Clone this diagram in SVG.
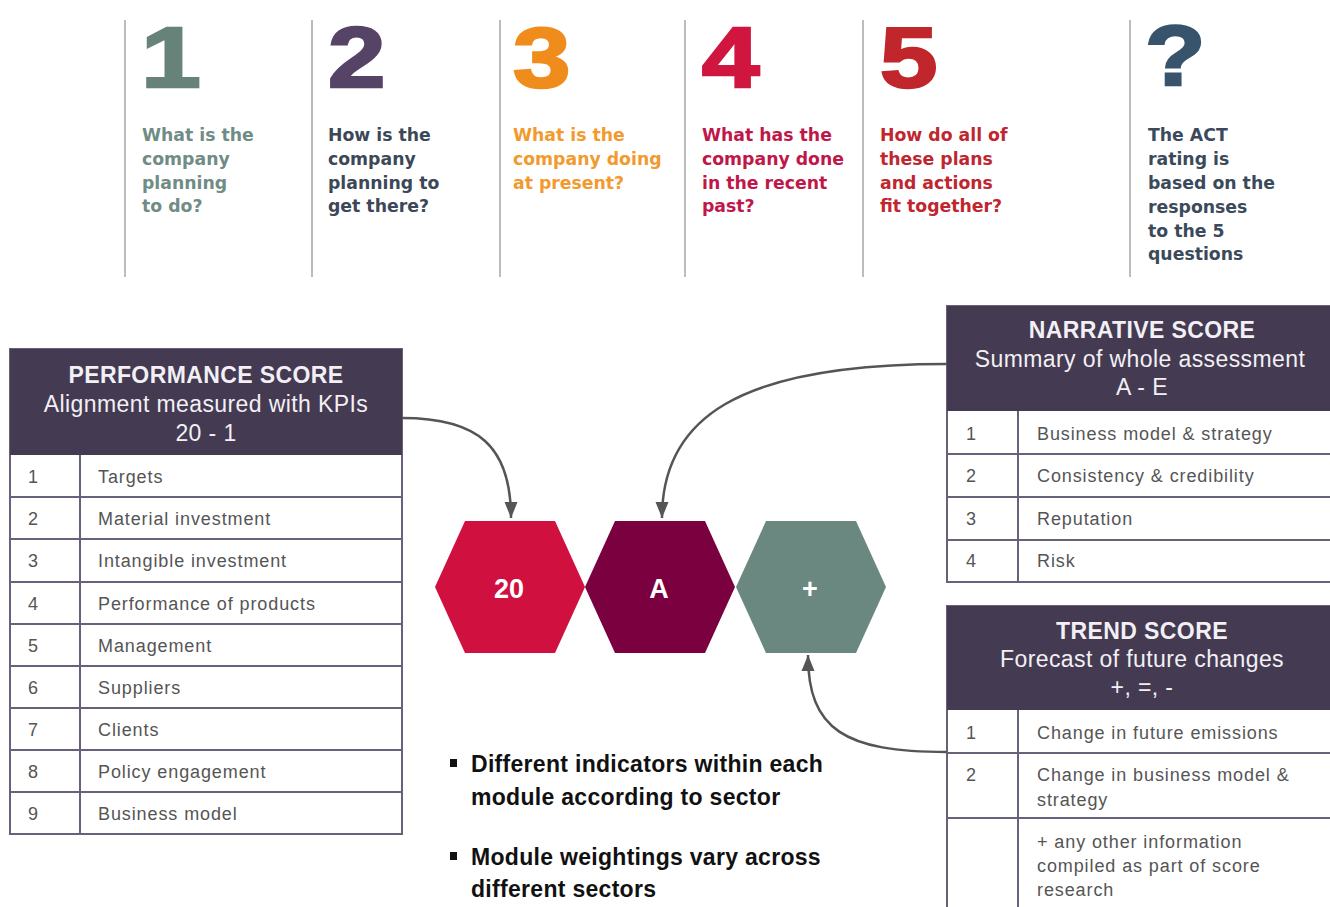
<svg xmlns="http://www.w3.org/2000/svg" width="1330" height="907" viewBox="0 0 1330 907">
<style>
.vl{stroke:#b9bdc1;stroke-width:2}
.num{font-family:"Liberation Sans",Arial,sans-serif;font-weight:bold;font-size:86px;stroke-width:2.5}
.q{font-family:"DejaVu Sans",sans-serif;font-weight:bold;font-size:17.3px}
.hdr{fill:#443a52}
.tb{fill:#fff;stroke:#6a607a;stroke-width:2}
.ln{stroke:#6a607a;stroke-width:2}
.ht{font-family:"Liberation Sans",Arial,sans-serif;font-size:23px;fill:#f2f0f4;text-anchor:middle;letter-spacing:0.4px}
.htb{font-weight:bold}
.tt{font-family:"Liberation Sans",Arial,sans-serif;font-size:18px;fill:#555;letter-spacing:0.9px}
.hx{font-family:"Liberation Sans",Arial,sans-serif;font-weight:bold;font-size:27px;fill:#fff;text-anchor:middle}
.bl{font-family:"Liberation Sans",Arial,sans-serif;font-weight:bold;font-size:23px;fill:#111;letter-spacing:0.3px}
.con{fill:none;stroke:#555;stroke-width:2.5}
</style>
<defs>
<marker id="ah" markerUnits="userSpaceOnUse" markerWidth="16" markerHeight="16" viewBox="0 0 16 16" refX="16" refY="8" orient="auto">
<path d="M0,1.5 L16,8 L0,14.5 Z" fill="#555"/>
</marker>
</defs>
<rect width="1330" height="907" fill="#fff"/>

<g id="questions">
<line class="vl" x1="125" y1="20" x2="125" y2="277"/>
<line class="vl" x1="312" y1="20" x2="312" y2="277"/>
<line class="vl" x1="500" y1="20" x2="500" y2="277"/>
<line class="vl" x1="685" y1="20" x2="685" y2="277"/>
<line class="vl" x1="863" y1="20" x2="863" y2="277"/>
<line class="vl" x1="1130" y1="20" x2="1130" y2="277"/>
</g>

<g id="q1">
<text class="num" transform="translate(141,87) scale(1.25,1)" fill="#678379" stroke="#678379">1</text>
<text class="q" fill="#6f8c85"><tspan x="142" y="141">What is the</tspan><tspan x="142" y="165">company</tspan><tspan x="142" y="189">planning</tspan><tspan x="142" y="212">to do?</tspan></text>
</g>
<g id="q2">
<text class="num" transform="translate(328,87) scale(1.2,1)" fill="#564466" stroke="#564466">2</text>
<text class="q" fill="#3c4757"><tspan x="328" y="141">How is the</tspan><tspan x="328" y="165">company</tspan><tspan x="328" y="189">planning to</tspan><tspan x="328" y="212">get there?</tspan></text>
</g>
<g id="q3">
<text class="num" transform="translate(513,87) scale(1.2,1)" fill="#f08c1c" stroke="#f08c1c">3</text>
<text class="q" fill="#f29a2e"><tspan x="513" y="141">What is the</tspan><tspan x="513" y="165">company doing</tspan><tspan x="513" y="189">at present?</tspan></text>
</g>
<g id="q4">
<text class="num" transform="translate(702,87) scale(1.2,1)" fill="#d0163f" stroke="#d0163f">4</text>
<text class="q" fill="#c0174a"><tspan x="702" y="141">What has the</tspan><tspan x="702" y="165">company done</tspan><tspan x="702" y="189">in the recent</tspan><tspan x="702" y="212">past?</tspan></text>
</g>
<g id="q5">
<text class="num" transform="translate(880,87) scale(1.2,1)" fill="#c0262b" stroke="#c0262b">5</text>
<text class="q" fill="#c0262f"><tspan x="880" y="141">How do all of</tspan><tspan x="880" y="165">these plans</tspan><tspan x="880" y="189">and actions</tspan><tspan x="880" y="212">fit together?</tspan></text>
</g>
<g id="q6">
<text class="num" transform="translate(1145,85) scale(1.15,1)" fill="#38546c" stroke="#38546c">?</text>
<text class="q" fill="#3b4a5a"><tspan x="1148" y="141">The ACT</tspan><tspan x="1148" y="165">rating is</tspan><tspan x="1148" y="189">based on the</tspan><tspan x="1148" y="213">responses</tspan><tspan x="1148" y="237">to the 5</tspan><tspan x="1148" y="260">questions</tspan></text>
</g>

<g id="performance">
<rect class="tb" x="10" y="349" width="392" height="485"/>
<rect class="hdr" x="10" y="349" width="392" height="106"/>
<text class="ht htb" x="206" y="383">PERFORMANCE SCORE</text>
<text class="ht" x="206" y="412">Alignment measured with KPIs</text>
<text class="ht" x="206" y="441">20 - 1</text>
<line class="ln" x1="10" y1="497" x2="402" y2="497"/>
<line class="ln" x1="10" y1="539" x2="402" y2="539"/>
<line class="ln" x1="10" y1="582" x2="402" y2="582"/>
<line class="ln" x1="10" y1="624" x2="402" y2="624"/>
<line class="ln" x1="10" y1="666" x2="402" y2="666"/>
<line class="ln" x1="10" y1="708" x2="402" y2="708"/>
<line class="ln" x1="10" y1="750" x2="402" y2="750"/>
<line class="ln" x1="10" y1="792" x2="402" y2="792"/>
<line class="ln" x1="80" y1="455" x2="80" y2="834"/>
<g class="tt">
<text x="28" y="483">1</text><text x="98" y="483">Targets</text>
<text x="28" y="525">2</text><text x="98" y="525">Material investment</text>
<text x="28" y="567">3</text><text x="98" y="567">Intangible investment</text>
<text x="28" y="610">4</text><text x="98" y="610">Performance of products</text>
<text x="28" y="652">5</text><text x="98" y="652">Management</text>
<text x="28" y="694">6</text><text x="98" y="694">Suppliers</text>
<text x="28" y="736">7</text><text x="98" y="736">Clients</text>
<text x="28" y="778">8</text><text x="98" y="778">Policy engagement</text>
<text x="28" y="820">9</text><text x="98" y="820">Business model</text>
</g>
</g>

<g id="narrative">
<rect class="tb" x="947" y="306" width="400" height="276"/>
<rect class="hdr" x="947" y="306" width="400" height="105"/>
<text class="ht htb" x="1142" y="338">NARRATIVE SCORE</text>
<text class="ht" x="1140" y="367">Summary of whole assessment</text>
<text class="ht" x="1142" y="395">A - E</text>
<line class="ln" x1="947" y1="454" x2="1340" y2="454"/>
<line class="ln" x1="947" y1="497" x2="1340" y2="497"/>
<line class="ln" x1="947" y1="540" x2="1340" y2="540"/>
<line class="ln" x1="1018" y1="411" x2="1018" y2="582"/>
<g class="tt">
<text x="966" y="440">1</text><text x="1037" y="440">Business model &amp; strategy</text>
<text x="966" y="482">2</text><text x="1037" y="482">Consistency &amp; credibility</text>
<text x="966" y="525">3</text><text x="1037" y="525">Reputation</text>
<text x="966" y="567">4</text><text x="1037" y="567">Risk</text>
</g>
</g>

<g id="trend">
<rect class="tb" x="947" y="606" width="400" height="320"/>
<rect class="hdr" x="947" y="606" width="400" height="104"/>
<text class="ht htb" x="1142" y="639">TREND SCORE</text>
<text class="ht" x="1142" y="667">Forecast of future changes</text>
<text class="ht" x="1142" y="695">+, =, -</text>
<line class="ln" x1="947" y1="753" x2="1340" y2="753"/>
<line class="ln" x1="947" y1="818" x2="1340" y2="818"/>
<line class="ln" x1="1018" y1="710" x2="1018" y2="907"/>
<g class="tt">
<text x="966" y="739">1</text><text x="1037" y="739">Change in future emissions</text>
<text x="966" y="781">2</text><text x="1037" y="781">Change in business model &amp;</text>
<text x="1037" y="806">strategy</text>
<text x="1037" y="848">+ any other information</text>
<text x="1037" y="872">compiled as part of score</text>
<text x="1037" y="896">research</text>
</g>
</g>

<g id="hex-performance">
<polygon points="435,587 465,521 555,521 585,587 555,653 465,653" fill="#d0103f"/>
<text class="hx" x="509" y="598">20</text>
</g>
<g id="hex-narrative">
<polygon points="585,587 615,521 705,521 735,587 705,653 615,653" fill="#7a0040"/>
<text class="hx" x="659" y="598">A</text>
</g>
<g id="hex-trend">
<polygon points="736,587 766,521 856,521 886,587 856,653 766,653" fill="#6b8880"/>
<text class="hx" x="810" y="598">+</text>
</g>

<g id="connectors">
<path class="con" d="M402,418 C478,418 511,446 511,518" marker-end="url(#ah)"/>
<path class="con" d="M947,364 C735,364 662,420 662,518" marker-end="url(#ah)"/>
<path class="con" d="M947,752 C845,752 808,730 808,655" marker-end="url(#ah)"/>
</g>

<g id="notes">
<rect x="450" y="759" width="7" height="8" fill="#111"/>
<text class="bl"><tspan x="471" y="772">Different indicators within each</tspan><tspan x="471" y="805">module according to sector</tspan></text>
<rect x="450" y="852" width="7" height="8" fill="#111"/>
<text class="bl"><tspan x="471" y="865">Module weightings vary across</tspan><tspan x="471" y="897">different sectors</tspan></text>
</g>
</svg>
